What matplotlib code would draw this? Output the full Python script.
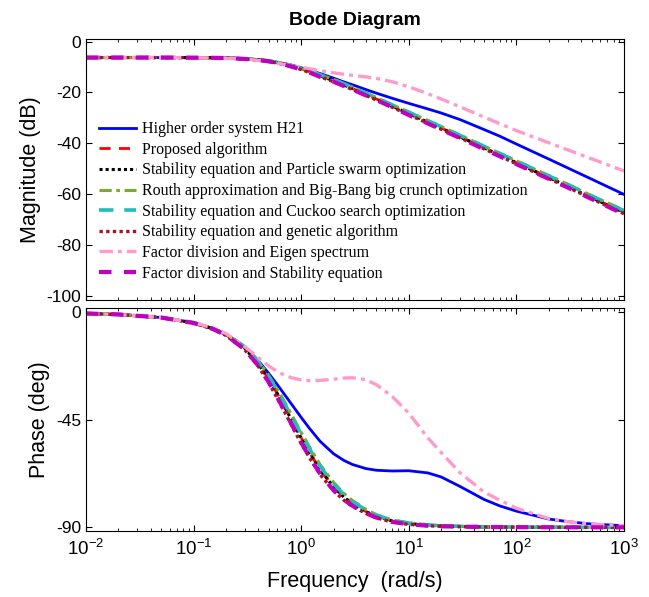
import matplotlib
matplotlib.use("Agg")
import matplotlib.pyplot as plt
from matplotlib.ticker import LogLocator, NullFormatter

plt.rcParams['font.family'] = ['Liberation Sans', 'DejaVu Sans']
plt.rcParams['mathtext.fontset'] = 'custom'
plt.rcParams['mathtext.rm'] = 'Liberation Sans'
plt.rcParams['mathtext.it'] = 'Liberation Sans:italic'
plt.rcParams['mathtext.bf'] = 'Liberation Sans:bold'
plt.rcParams['axes.unicode_minus'] = False

# frequency grid (rad/s)
w = [0.01, 0.02, 0.05, 0.1, 0.15, 0.2, 0.3, 0.4, 0.5, 0.6, 0.7, 0.8, 1, 1.2, 1.5, 2,
     2.5, 3, 4, 5, 7, 10, 15, 20, 30, 50, 70, 100, 200, 300, 500, 1000]

# magnitude (dB)
mag_h21 = [-6.3, -6.3, -6.3, -6.3, -6.3, -6.35, -6.7, -7.1, -7.6, -8.2, -8.7, -9.2, -10.3, -11.3,
           -12.6, -14.4, -15.9, -17.0, -18.9, -20.3, -22.3, -24.3, -26.5, -28.1, -30.7, -34.6,
           -37.2, -40.3, -46.2, -49.7, -54.1, -60.1]
mag_proposed = [-6.3, -6.3, -6.3, -6.35, -6.4, -6.5, -6.8, -7.2, -7.7, -8.3, -8.9, -9.5, -10.7, -11.9,
                -13.5, -15.4, -17.1, -18.5, -20.8, -22.6, -25.4, -28.3, -31.6, -34.0, -37.4, -41.7,
                -44.5, -47.6, -53.4, -56.8, -61.3, -67.1]
mag_pso = [-6.3, -6.3, -6.3, -6.35, -6.4, -6.5, -6.8, -7.2, -7.7, -8.3, -8.9, -9.5, -10.7, -11.9,
           -13.5, -15.4, -17.1, -18.5, -20.8, -22.6, -25.4, -28.3, -31.7, -34.1, -37.5, -41.8,
           -44.6, -47.7, -53.5, -56.9, -61.4, -67.2]
mag_routh = [-6.3, -6.3, -6.3, -6.35, -6.4, -6.5, -6.8, -7.1, -7.6, -8.1, -8.7, -9.3, -10.4, -11.5,
             -13.0, -14.9, -16.5, -17.9, -20.2, -22.0, -24.8, -27.7, -31.0, -33.4, -36.8, -41.1,
             -43.9, -46.9, -52.7, -56.1, -60.6, -66.3]
mag_cuckoo = [-6.3, -6.3, -6.3, -6.35, -6.4, -6.5, -6.8, -7.1, -7.6, -8.2, -8.8, -9.4, -10.5, -11.6,
              -13.1, -15.0, -16.6, -18.0, -20.3, -22.1, -24.9, -27.8, -31.1, -33.5, -36.9, -41.2,
              -44.0, -47.0, -52.8, -56.2, -60.7, -66.5]
mag_ga = [-6.3, -6.3, -6.3, -6.35, -6.4, -6.5, -6.85, -7.3, -7.8, -8.5, -9.1, -9.8, -11.0, -12.2,
          -13.9, -15.8, -17.5, -18.9, -21.2, -23.0, -25.8, -28.8, -32.1, -34.5, -37.9, -42.2,
          -45.0, -48.1, -53.9, -57.3, -61.8, -67.7]
mag_fd_eigen = [-6.3, -6.3, -6.3, -6.35, -6.45, -6.6, -6.9, -7.4, -8.0, -8.5, -9.0, -9.4, -10.1, -10.7,
                -11.5, -12.3, -12.9, -13.3, -13.9, -14.5, -15.8, -17.8, -20.5, -22.6, -25.7, -29.7,
                -32.3, -35.0, -39.8, -42.6, -46.1, -50.9]
mag_fd_stab = [-6.3, -6.3, -6.3, -6.35, -6.4, -6.5, -6.85, -7.3, -7.8, -8.5, -9.1, -9.8, -11.0, -12.2,
               -13.9, -15.8, -17.5, -18.9, -21.2, -23.0, -25.8, -28.9, -32.2, -34.6, -38.0, -42.3,
               -45.1, -48.2, -54.0, -57.4, -61.9, -67.9]

# phase (deg)
ph_h21 = [-0.5, -0.9, -2.2, -4.4, -6.7, -9.2, -14.5, -20.3, -25.6, -30.3, -34.4, -38.0, -44.0, -48.7,
          -54.0, -59.2, -62.0, -63.7, -65.4, -66.1, -66.4, -66.3, -67.2, -68.9, -72.9, -78.3, -81.0,
          -83.2, -86.5, -87.6, -88.6, -89.3]
ph_proposed = [-0.5, -0.9, -2.2, -4.4, -6.8, -9.4, -15.0, -21.5, -28.0, -34.0, -39.5, -44.3, -52.5,
               -58.8, -65.8, -73.0, -77.3, -80.0, -83.4, -85.3, -87.3, -88.4, -89.1, -89.4, -89.6,
               -89.8, -89.85, -89.9, -89.95, -89.97, -89.98, -89.99]
ph_pso = [-0.5, -0.9, -2.2, -4.4, -6.8, -9.4, -15.1, -21.6, -28.1, -34.1, -39.6, -44.4, -52.6,
          -58.9, -65.9, -73.1, -77.4, -80.1, -83.5, -85.4, -87.3, -88.4, -89.1, -89.4, -89.6,
          -89.8, -89.85, -89.9, -89.95, -89.97, -89.98, -89.99]
ph_routh = [-0.5, -0.9, -2.2, -4.3, -6.6, -9.1, -14.3, -20.4, -26.4, -32.1, -37.4, -42.2, -50.2,
            -56.5, -63.8, -71.2, -75.8, -78.8, -82.5, -84.7, -86.9, -88.1, -88.9, -89.25, -89.55,
            -89.75, -89.82, -89.88, -89.94, -89.96, -89.98, -89.99]
ph_cuckoo = [-0.5, -0.9, -2.2, -4.3, -6.7, -9.2, -14.5, -20.8, -27.0, -32.8, -38.2, -43.0, -51.0,
             -57.3, -64.5, -71.8, -76.3, -79.2, -82.8, -84.9, -87.0, -88.2, -89.0, -89.3, -89.55,
             -89.75, -89.82, -89.88, -89.94, -89.96, -89.98, -89.99]
ph_ga = [-0.5, -0.9, -2.2, -4.5, -7.0, -9.7, -15.8, -22.7, -29.6, -36.0, -41.7, -46.6, -54.9, -61.0,
         -67.9, -74.7, -78.7, -81.2, -84.2, -86.0, -87.8, -88.75, -89.3, -89.55, -89.7, -89.82,
         -89.87, -89.91, -89.95, -89.97, -89.98, -89.99]
ph_fd_eigen = [-0.5, -0.9, -2.2, -4.3, -6.5, -8.9, -14.4, -19.0, -22.5, -24.8, -26.3, -27.3, -28.3,
               -28.6, -28.5, -28.0, -27.5, -27.4, -28.2, -30.3, -35.2, -42.2, -52.5, -58.7, -67.2,
               -75.2, -78.6, -82.0, -86.3, -87.6, -88.6, -89.3]
ph_fd_stab = [-0.5, -0.9, -2.2, -4.5, -6.9, -9.6, -15.6, -22.4, -29.3, -35.6, -41.3, -46.2, -54.5,
              -60.7, -67.6, -74.5, -78.5, -81.0, -84.1, -85.9, -87.7, -88.7, -89.3, -89.55, -89.7,
              -89.82, -89.87, -89.91, -89.95, -89.97, -89.98, -89.99]

labels = ['Higher order system H21', 'Proposed algorithm',
          'Stability equation and Particle swarm optimization',
          'Routh approximation and Big-Bang big crunch optimization',
          'Stability equation and Cuckoo search optimization',
          'Stability equation and genetic algorithm',
          'Factor division and Eigen spectrum',
          'Factor division and Stability equation']
mags = [mag_h21, mag_proposed, mag_pso, mag_routh, mag_cuckoo, mag_ga, mag_fd_eigen, mag_fd_stab]
phases = [ph_h21, ph_proposed, ph_pso, ph_routh, ph_cuckoo, ph_ga, ph_fd_eigen, ph_fd_stab]

styles = [dict(color='#0000FF', ls='-', lw=2.0),
          dict(color='#FF0000', ls=(0, (4, 3)), lw=2.0),
          dict(color='#000000', ls=(0, (1, 1)), lw=2.2),
          dict(color='#77AC30', ls=(0, (4, 1.5, 1.2, 1.5)), lw=2.2),
          dict(color='#1FBDBD', ls=(0, (4, 3)), lw=2.6),
          dict(color='#A2142F', ls=(0, (1, 1)), lw=2.4),
          dict(color='#FF9BCB', ls=(0, (4, 1.5, 1.2, 1.5)), lw=2.4),
          dict(color='#BF00BF', ls=(0, (3, 3)), lw=3.0)]

fig = plt.figure(figsize=(6.49, 5.97), dpi=100)
ax1 = fig.add_axes([0.1325, 0.4975, 0.829, 0.4372])
ax2 = fig.add_axes([0.1325, 0.1106, 0.829, 0.3735])

for m, p, lab, st in zip(mags, phases, labels, styles):
    ax1.semilogx(w, m, label=lab, **st)
    ax2.semilogx(w, p, **st)

for ax in (ax1, ax2):
    ax.set_xlim(1e-2, 1e3)
    ax.xaxis.set_major_locator(LogLocator(base=10, numticks=10))
    ax.xaxis.set_minor_locator(LogLocator(base=10, subs=range(2, 10), numticks=10))
    ax.tick_params(which='both', direction='in', top=True, right=True, labelsize=12.5)
    ax.tick_params(which='major', length=4)
    ax.tick_params(which='minor', length=2.5)
    ax.tick_params(axis='x', labelsize=13.5, pad=6)
    for s in ax.spines.values():
        s.set_linewidth(0.8)

ax1.set_ylim(-101.6, 1.0)
ax1.set_yticks([0, -20, -40, -60, -80, -100])
ax1.xaxis.set_major_formatter(NullFormatter())
ax1.set_ylabel('Magnitude (dB)', fontsize=15.5, labelpad=4)
ax1.set_title('Bode Diagram', fontsize=14, fontweight='bold', pad=10)

ax2.set_ylim(-91.5, 1.8)
ax2.set_yticks([0, -45, -90])
ax2.set_ylabel('Phase (deg)', fontsize=15.5, labelpad=4)
ax2.set_xlabel('Frequency  (rad/s)', fontsize=15.5, labelpad=8)

ax1.legend(loc='upper left', bbox_to_anchor=(0.024, 0.685), frameon=False,
           prop={'family': 'Liberation Serif', 'size': 11.5}, handlelength=2.3,
           handletextpad=0.4, labelspacing=0.29, borderaxespad=0, borderpad=0)

fig.savefig('out.png', dpi=100)
